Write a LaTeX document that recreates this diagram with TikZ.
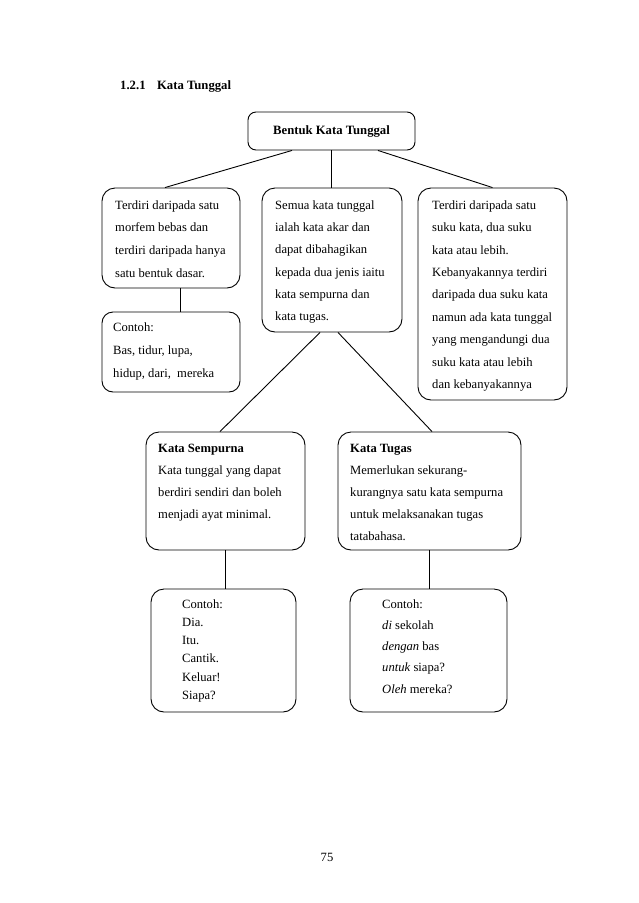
\documentclass[tikz,border=0pt]{standalone}
\usepackage{fontspec}
\setmainfont{Liberation Serif}
\begin{document}
\begin{tikzpicture}[x=1pt,y=-1pt,
  box/.style={draw, line width=0.9pt, rounded corners=13pt, inner sep=0pt},
  txt/.style={anchor=north west, inner sep=0pt, align=left},
  fnt/.style={font=\fontsize{12.6}{#1}\selectfont},
  conn/.style={draw, line width=0.9pt}]
\useasboundingbox (0,0) rectangle (638,903);
\node[anchor=base west, inner sep=0pt, font=\fontsize{12.7}{15}\selectfont\bfseries] (head) at (120,89) {1.2.1\hspace{11.5pt}Kata Tunggal};

\node[box, rounded corners=8pt, minimum width=167pt, minimum height=38pt, font=\fontsize{12.7}{15}\selectfont\bfseries] (top) at (331.5,131) {Bentuk Kata Tunggal};

\node[box, minimum width=138pt, minimum height=100pt] (b1) at (171,238) {};
\node[txt, fnt=22.6] (b1t) at (115,200.4) {Terdiri daripada satu\\morfem bebas dan\\terdiri daripada hanya\\satu bentuk dasar.};

\node[box, rounded corners=11pt, minimum width=138pt, minimum height=80pt] (c1) at (171,352) {};
\node[txt, fnt=23] (c1t) at (113,322.4) {Contoh:\\Bas, tidur, lupa,\\hidup, dari,\ \ mereka};

\node[box, minimum width=140pt, minimum height=144pt] (b2) at (332,260) {};
\node[txt, fnt=22.3] (b2t) at (275,200.4) {Semua kata tunggal\\ialah kata akar dan\\dapat dibahagikan\\kepada dua jenis iaitu\\kata sempurna dan\\kata tugas.};

\node[box, minimum width=149pt, minimum height=212pt] (b3) at (492.5,294) {};
\node[txt, fnt=22.4] (b3t) at (432,200.4) {Terdiri daripada satu\\suku kata, dua suku\\kata atau lebih.\\Kebanyakannya terdiri\\daripada dua suku kata\\namun ada kata tunggal\\yang mengandungi dua\\suku kata atau lebih\\dan kebanyakannya};

\node[box, minimum width=159pt, minimum height=118pt] (s) at (225.5,491) {};
\node[txt, fnt=22] (st) at (158,444.4) {\textbf{Kata Sempurna}\\Kata tunggal yang dapat\\berdiri sendiri dan boleh\\menjadi ayat minimal.};

\node[box, minimum width=183pt, minimum height=118pt] (tg) at (429.5,491) {};
\node[txt, fnt=22] (tgt) at (350,444.4) {\textbf{Kata Tugas}\\Memerlukan sekurang-\\kurangnya satu kata sempurna\\untuk melaksanakan tugas\\tatabahasa.};

\node[box, minimum width=145pt, minimum height=123pt] (c2) at (223.5,650.5) {};
\node[txt, fnt=18.2] (c2t) at (182,599.4) {Contoh:\\Dia.\\Itu.\\Cantik.\\Keluar!\\Siapa?};

\node[box, minimum width=157pt, minimum height=123pt] (c3) at (428.5,650.5) {};
\node[txt, fnt=21.2] (c3t) at (382,599.4) {Contoh:\\\textit{di} sekolah\\\textit{dengan} bas\\\textit{untuk} siapa?\\\textit{Oleh} mereka?};

\node[anchor=base, inner sep=0pt, fnt=15] (pg) at (327,861) {75};

\draw[conn] ([xshift=-39.5pt]top.south) -- ([xshift=-6pt]b1.north);
\draw[conn] (top.south) -- (top.south |- b2.north);
\draw[conn] ([xshift=46.5pt]top.south) -- (b3.north);
\draw[conn] ([xshift=9pt]b1.south) -- ([xshift=9pt]c1.north);
\draw[conn] ([xshift=-12pt]b2.south) -- ([xshift=-5.5pt]s.north);
\draw[conn] ([xshift=6pt]b2.south) -- ([xshift=2.5pt]tg.north);
\draw[conn] (s.south) -- (s.south |- c2.north);
\draw[conn] (tg.south) -- (tg.south |- c3.north);
\end{tikzpicture}
\end{document}
